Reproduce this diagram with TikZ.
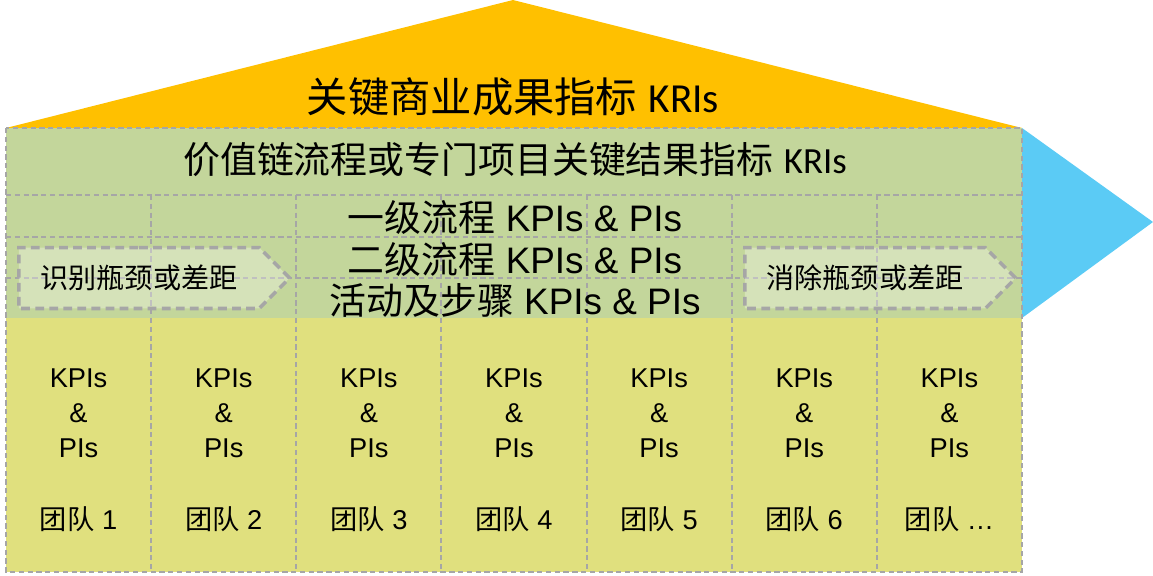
\documentclass[tikz,border=0pt]{standalone}
\usepackage{fontspec}
\setmainfont{Liberation Sans}
\newfontfamily\cjk{Noto Sans CJK SC}
\newfontfamily\cali{Carlito}
\usetikzlibrary{shapes.symbols}
\definecolor{roofc}{HTML}{FFC000}
\definecolor{greenc}{HTML}{C3D69B}
\definecolor{yellowc}{HTML}{E0E07E}
\definecolor{bluec}{HTML}{5BCBF5}
\definecolor{gridc}{HTML}{A6A6A6}

\begin{document}
\begin{tikzpicture}[x=0.02cm, y=-0.02cm]
  \tikzstyle{grid}=[draw=gridc, line width=1pt, dash pattern=on 3pt off 2pt]
  \tikzstyle{chev}=[signal, signal to=east, signal pointer angle=90, draw=gridc, line width=2pt, dash pattern=on 5pt off 3pt, fill=white, fill opacity=0.3, text opacity=1, minimum width=5.42cm, minimum height=1.22cm, inner sep=0pt, font=\cjk\fontsize{16}{18}\selectfont]
  \tikzstyle{row}=[inner sep=0pt, font=\fontsize{21}{24}\selectfont]
  \tikzstyle{team}=[align=center, inner sep=0pt, font=\fontsize{15.5}{19.8}\selectfont]
  \useasboundingbox (0,0) rectangle (1153,575);
  % roof and arrow
  \fill[roofc] (6,128) -- (513,0) -- (1022,128) -- cycle;
  \fill[bluec] (1022,128) -- (1153,222) -- (1022,318) -- cycle;
  % body
  \fill[greenc] (6,128) rectangle (1022,318);
  \fill[yellowc] (6,318) rectangle (1022,572);
  \draw[grid] (6,195) -- (1022,195);
  \draw[grid] (6,237) -- (1022,237);
  \draw[grid] (6,278) -- (1022,278);
  \foreach \x in {151,296,441,587,732,877}
    \draw[grid] (\x,195) -- (\x,572);
  \draw[grid] (6,128) rectangle (1022,572);
  % titles
  \node[row, font=\fontsize{23.5}{26}\selectfont] (kri) at (513,97) {{\cjk 关键商业成果指标} {\cali KRIs}};
  \node[row] (vc) at (515,160) {{\cjk 价值链流程或专门项目关键结果指标} {\cali KRIs}};
  \node[row] (lv1) at (515,217) {{\cjk 一级流程} KPIs \& PIs};
  \node[row] (lv2) at (515,259) {{\cjk 二级流程} KPIs \& PIs};
  \node[row] (act) at (515,300) {{\cjk 活动及步骤} KPIs \& PIs};
  % chevrons
  \node[chev] (find) at (139,278) {识别瓶颈或差距};
  \node[chev] (fix) at (865,278) {消除瓶颈或差距};
  % teams
  \foreach \i/\t in {1/1,2/2,3/3,4/4,5/5,6/6,7/\dots} {
    \node[team] (kpi\i) at (6+145.14*\i-72.57,413) {KPIs\\\&\\PIs};
    \node[team] (team\i) at (6+145.14*\i-72.57,519) {{\cjk 团队} \t};
  }
\end{tikzpicture}
\end{document}
